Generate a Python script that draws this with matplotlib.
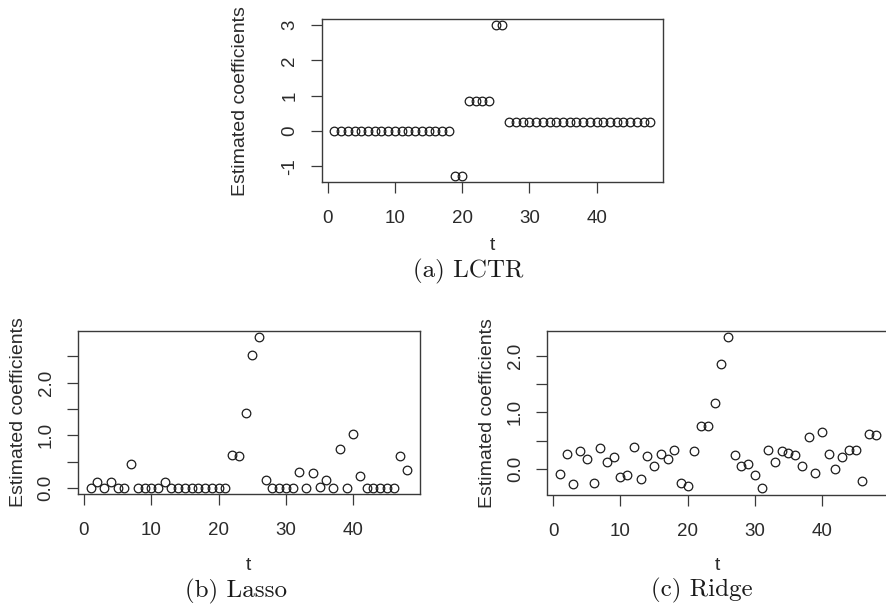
import numpy as np
import matplotlib
matplotlib.use("Agg")
import matplotlib.pyplot as plt

# time index
t = np.arange(1, 49)

# estimated coefficients
lctr = [0, 0, 0, 0, 0, 0, 0, 0, 0, 0, 0, 0, 0, 0, 0, 0, 0, 0,
        -1.28, -1.28, 0.86, 0.86, 0.86, 0.86, 3.0, 3.0,
        0.26, 0.26, 0.26, 0.26, 0.26, 0.26, 0.26, 0.26, 0.26, 0.26, 0.26,
        0.26, 0.26, 0.26, 0.26, 0.26, 0.26, 0.26, 0.26, 0.26, 0.26, 0.26]
lasso = [0, 0.11, 0, 0.11, 0, 0, 0.45, 0, 0, 0, 0, 0.11,
         0, 0, 0, 0, 0, 0, 0, 0, 0,
         0.62, 0.60, 1.42, 2.53, 2.87, 0.15,
         0, 0, 0, 0,
         0.31, 0, 0.29, 0.02, 0.15, 0, 0.74, 0, 1.02, 0.23,
         0, 0, 0, 0, 0, 0.61, 0.34]
ridge = [-0.10, 0.26, -0.27, 0.31, 0.18, -0.25, 0.36, 0.12, 0.21, -0.14,
         -0.12, 0.38, -0.18, 0.23, 0.04, 0.27, 0.17, 0.33, -0.26, -0.30,
         0.31, 0.75, 0.76, 1.17, 1.86, 2.34, 0.25, 0.04, 0.09, -0.12,
         -0.35, 0.34, 0.12, 0.31, 0.28, 0.25, 0.04, 0.56, -0.08, 0.66,
         0.26, 0.0, 0.21, 0.33, 0.33, -0.22, 0.62, 0.59]

xticks = [0, 10, 20, 30, 40]
yticks_a = [-1, 0, 1, 2, 3]
ylabels_a = ["-1", "0", "1", "2", "3"]
yticks_b = [0, 0.5, 1.0, 1.5, 2.0, 2.5]
ylabels_b = ["0.0", "", "1.0", "", "2.0", ""]
yticks_c = [0, 0.5, 1.0, 1.5, 2.0]
ylabels_c = ["0.0", "", "1.0", "", "2.0"]
captions = ["(a) LCTR", "(b) Lasso", "(c) Ridge"]

W, H = 886, 607
INK = "#2b2b2b"
SANS = "Liberation Sans"


def rlim(v):
    # R style: pad the data range by 4% each side
    lo, hi = min(v), max(v)
    d = (hi - lo) * 0.04
    return lo - d, hi + d


def px_axes(fig, left, top, right, bottom):
    return fig.add_axes([left / W, 1 - bottom / H, (right - left) / W, (bottom - top) / H])


def panel(fig, box, y, yt, yl, ylab_x, t_y, cap, cap_xy):
    left, top, right, bottom = box
    ax = px_axes(fig, left, top, right, bottom)
    ax.plot(t, y, "o", ms=6.2, mfc="none", mec="#1c1c1c", mew=0.9)
    ax.set_xlim(rlim(t))
    ax.set_ylim(rlim(y))
    ax.set_xticks(xticks)
    ax.set_xticklabels([str(v) for v in xticks])
    ax.set_yticks(yt)
    ax.set_yticklabels(yl, rotation=90, va="center")
    for s in ax.spines.values():
        s.set_color("#3a3a3a")
        s.set_linewidth(1.0)
    ax.tick_params(direction="out", length=7.8, width=0.9, color="#3a3a3a",
                   labelsize=13.5, labelcolor=INK)
    ax.tick_params(axis="x", pad=12.5)
    ax.tick_params(axis="y", pad=9.0)
    for lab in ax.get_xticklabels() + ax.get_yticklabels():
        lab.set_fontfamily(SANS)

    cy = (top + bottom) / 2
    fig.text(ylab_x / W, 1 - cy / H, "Estimated coefficients", rotation=90,
             rotation_mode="anchor", ha="center", va="baseline",
             fontsize=14, family=SANS, color=INK)
    cx = (left + right) / 2
    fig.text(cx / W, 1 - t_y / H, "t", ha="center", va="baseline",
             fontsize=14, family=SANS, color=INK)
    fig.text(cap_xy[0] / W, 1 - cap_xy[1] / H, cap, ha="center", va="baseline",
             fontsize=18, family="cmr10", color="#1a1a1a")
    return ax


fig = plt.figure(figsize=(W / 100, H / 100), dpi=100)

panel(fig, (321.8, 19.1, 663.0, 182.2), lctr, yticks_a, ylabels_a,
      245, 250, captions[0], (468, 277))
panel(fig, (78.0, 330.8, 419.8, 494.0), lasso, yticks_b, ylabels_b,
      23.3, 570, captions[1], (236, 597))
panel(fig, (547.4, 330.8, 888.4, 494.5), ridge, yticks_c, ylabels_c,
      491.7, 570, captions[2], (702, 596))

fig.savefig("out.png", dpi=100)
